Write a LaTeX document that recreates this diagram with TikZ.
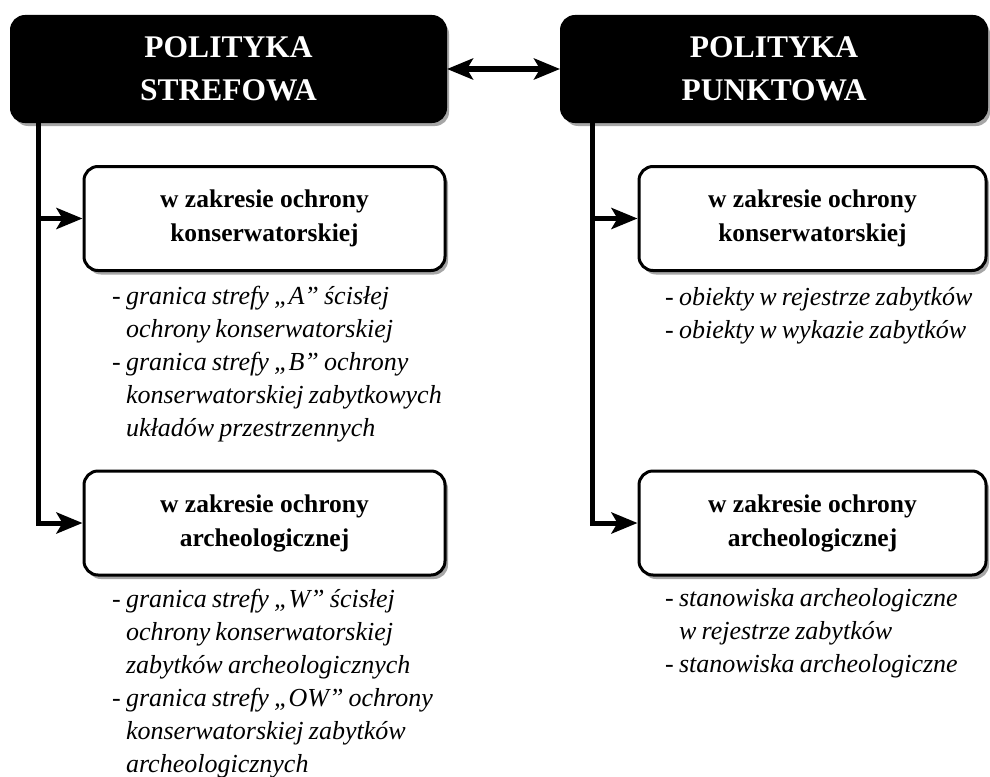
\documentclass[tikz,border=0pt]{standalone}
\usepackage{fontspec}
\setmainfont{Liberation Serif}
\usetikzlibrary{arrows.meta,shadows}
\newcommand\tightsp{\spaceskip=0.2em\relax}
\begin{document}
\begin{tikzpicture}[x=1pt,y=-1pt,
  shad/.style={drop shadow={shadow xshift=3pt,shadow yshift=-4pt,fill=black,opacity=0.35}},
  topbox/.style={shad, fill=black, draw=black, line width=2pt, rounded corners=14pt, text=white,
    font=\bfseries\fontsize{31.5}{43}\selectfont, align=center, inner sep=0pt, minimum height=106pt},
  subbox/.style={shad, fill=white, draw=black, line width=3pt, rounded corners=14pt,
    font=\bfseries\fontsize{25.5}{34}\selectfont, align=center, inner sep=0pt, minimum height=104pt},
  listtext/.style={anchor=base west, inner sep=0pt, text width=370pt, align=left,
    font=\itshape\fontsize{26}{33}\selectfont},
  conn/.style={line width=5pt, -{Stealth[length=26pt,width=21pt,inset=6pt]}},
  dbl/.style={line width=5pt, {Stealth[length=26pt,width=21pt,inset=6pt]}-{Stealth[length=26pt,width=21pt,inset=6pt]}}
]
\useasboundingbox (0,0) rectangle (990,776);

\node[topbox, minimum width=435pt] (topL) at (228.5,69) {POLITYKA\\STREFOWA};
\node[topbox, minimum width=426pt] (topR) at (774,69) {POLITYKA\\PUNKTOWA};

\node[subbox, minimum width=361pt] (L1) at (264.5,218.5) {w zakresie ochrony\\konserwatorskiej};
\node[subbox, minimum width=361pt] (L2) at (264.5,523) {w zakresie ochrony\\archeologicznej};
\node[subbox, minimum width=347pt] (R1) at (812.5,218.5) {w zakresie ochrony\\konserwatorskiej};
\node[subbox, minimum width=347pt] (R2) at (812.5,523) {w zakresie ochrony\\archeologicznej};

\coordinate (lx) at (38,0);
\coordinate (rx) at (592,0);

\draw[dbl] (topL.east) -- (topR.west);
\draw[conn] (topL.south -| lx) |- (L2.west);
\draw[conn] (lx |- L1.west) -- (L1.west);
\draw[conn] (topR.south -| rx) |- (R2.west);
\draw[conn] (rx |- R1.west) -- (R1.west);

\node[listtext] (listL1) at (112,304) {\tightsp - granica strefy „A” ścisłej\\
\phantom{- }ochrony konserwatorskiej\\
- granica strefy „B” ochrony\\
\phantom{- }konserwatorskiej zabytkowych\\
\phantom{- }układów przestrzennych};

\node[listtext] (listL2) at (112,607) {\tightsp - granica strefy „W” ścisłej\\
\phantom{- }ochrony konserwatorskiej\\
\phantom{- }zabytków archeologicznych\\
- granica strefy „OW” ochrony\\
\phantom{- }konserwatorskiej zabytków\\
\phantom{- }archeologicznych};

\node[listtext] (listR1) at (665,305) {\tightsp - obiekty w rejestrze zabytków\\
- obiekty w wykazie zabytków};

\node[listtext] (listR2) at (665,606) {\tightsp - stanowiska archeologiczne\\
\phantom{- }w rejestrze zabytków\\
- stanowiska archeologiczne};
\end{tikzpicture}
\end{document}
